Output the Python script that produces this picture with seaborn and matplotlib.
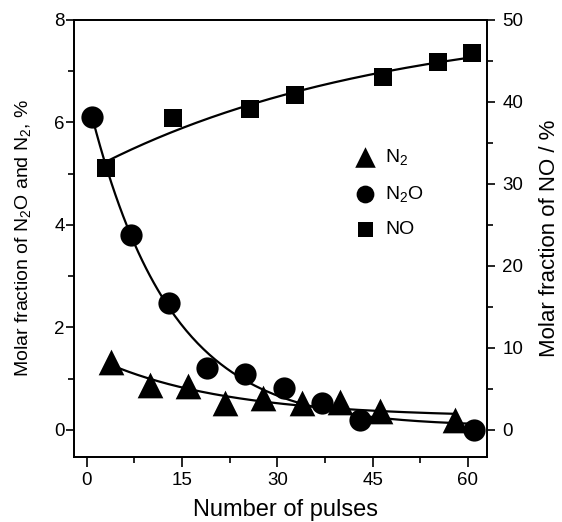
import numpy as np
import pandas as pd
import matplotlib
matplotlib.use("Agg")
import matplotlib.pyplot as plt
import seaborn as sns
from matplotlib.ticker import MultipleLocator

# ---- data ----
n2_x = [3.9, 10.0, 16.0, 21.8, 27.8, 33.9, 39.9, 46.1, 58.0]
n2_y = [1.33, 0.88, 0.85, 0.52, 0.62, 0.52, 0.55, 0.36, 0.20]

n2o_x = [0.9, 6.9, 12.9, 18.9, 24.9, 31.0, 37.0, 43.0, 60.9]
n2o_y = [6.10, 3.80, 2.47, 1.20, 1.10, 0.81, 0.53, 0.20, 0.00]

no_x = [3.0, 13.6, 25.7, 32.8, 46.7, 55.3, 60.7]
no_y = [32.0, 38.0, 39.1, 40.9, 43.0, 44.9, 46.0]

x_ticks = [0, 15, 30, 45, 60]
left_ticks = [0, 2, 4, 6, 8]
right_ticks = [0, 10, 20, 30, 40, 50]


def exp_fit(x, y, n=200):
    """Least-squares fit of y = A*exp(-k x) + C, returns a smooth curve."""
    x = np.asarray(x, float)
    y = np.asarray(y, float)
    best = None
    for k in np.linspace(0.001, 0.4, 4000):
        M = np.column_stack([np.exp(-k * x), np.ones_like(x)])
        coef, *_ = np.linalg.lstsq(M, y, rcond=None)
        sse = np.sum((M @ coef - y) ** 2)
        if best is None or sse < best[0]:
            best = (sse, k, coef)
    _, k, (a, c) = best
    xx = np.linspace(x.min(), x.max(), n)
    return pd.DataFrame({"x": xx, "y": a * np.exp(-k * xx) + c})


sns.set_style("ticks")
plt.rcParams["font.family"] = ["Liberation Sans", "DejaVu Sans"]
plt.rcParams["mathtext.default"] = "regular"
plt.rcParams["text.color"] = "black"
plt.rcParams["axes.labelcolor"] = "black"
plt.rcParams["xtick.color"] = "black"
plt.rcParams["ytick.color"] = "black"

fig = plt.figure(figsize=(5.62, 5.22), dpi=100)
ax = fig.add_axes([0.1317, 0.1245, 0.7348, 0.8372])
ax2 = ax.twinx()

lw = 1.6
sns.lineplot(data=exp_fit(n2_x, n2_y), x="x", y="y", ax=ax, color="black", lw=lw)
sns.lineplot(data=exp_fit(n2o_x, n2o_y), x="x", y="y", ax=ax, color="black", lw=lw)
sns.lineplot(data=exp_fit(no_x, no_y), x="x", y="y", ax=ax2, color="black", lw=lw)

sns.scatterplot(x=n2_x, y=n2_y, ax=ax, marker="^", s=18.5 ** 2, color="black",
                edgecolor="black", linewidth=0, label="N$_2$", zorder=3)
sns.scatterplot(x=n2o_x, y=n2o_y, ax=ax, marker="o", s=16 ** 2, color="black",
                edgecolor="black", linewidth=0, label="N$_2$O", zorder=3)
sns.scatterplot(x=no_x, y=no_y, ax=ax2, marker="s", s=13.5 ** 2, color="black",
                edgecolor="black", linewidth=0, label="NO", zorder=3)

ax.set_xlim(-2, 63)
ax.set_ylim(-0.53, 8)
ax2.set_ylim(-0.53 * 6.25, 50)

ax.set_xticks(x_ticks)
ax.set_yticks(left_ticks)
ax2.set_yticks(right_ticks)
ax.xaxis.set_minor_locator(MultipleLocator(7.5))
ax.yaxis.set_minor_locator(MultipleLocator(1))
ax2.yaxis.set_minor_locator(MultipleLocator(5))

for a in (ax, ax2):
    a.tick_params(which="major", direction="out", length=6, width=1.2,
                  labelsize=13.5, colors="black")
    a.tick_params(which="minor", direction="out", length=4, width=1.2)
    for s in a.spines.values():
        s.set_visible(True)
        s.set_linewidth(1.3)
        s.set_color("black")
ax.tick_params(axis="x", which="major", length=7, pad=4)
ax.tick_params(axis="y", which="major", pad=0.8)
ax2.tick_params(axis="y", which="major", pad=5)

ax.set_xlabel("Number of pulses", fontsize=17)
ax.xaxis.set_label_coords(0.513, -0.097)
ax.set_ylabel("Molar fraction of N$_2$O and N$_2$, %", fontsize=14)
ax.yaxis.set_label_coords(-0.1, 0.5)
ax2.set_ylabel("Molar fraction of NO / %", fontsize=16)
ax2.yaxis.set_label_coords(1.127, 0.5)

h1, l1 = ax.get_legend_handles_labels()
h2, l2 = ax2.get_legend_handles_labels()
if ax.get_legend():
    ax.get_legend().remove()
ax2.legend(h1 + h2, l1 + l2, loc="center left", bbox_to_anchor=(0.615, 0.605),
           frameon=False, fontsize=14, markerscale=0.8, handletextpad=0.05,
           labelspacing=0.85)

fig.savefig("out.png", dpi=100)
